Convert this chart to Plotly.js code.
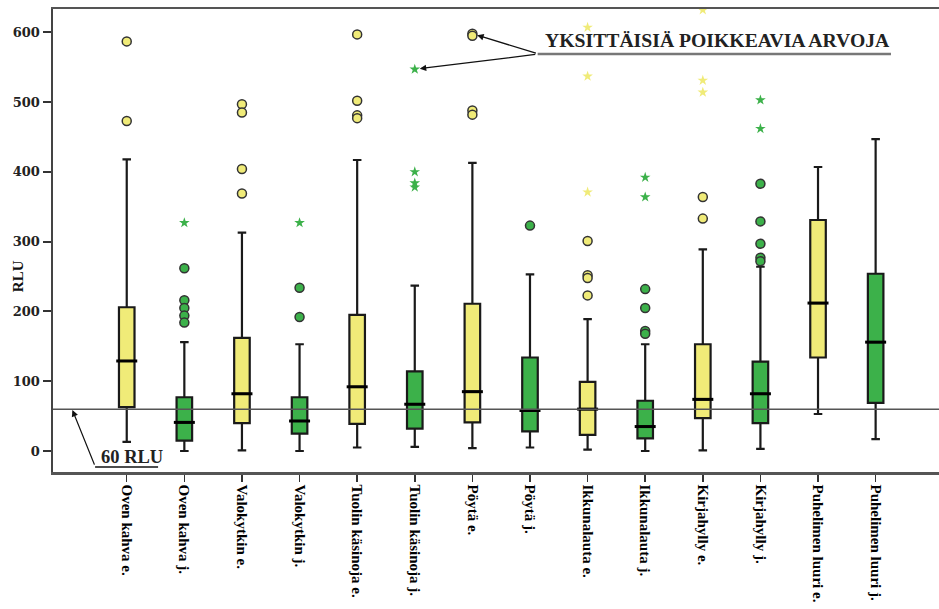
<!DOCTYPE html>
<html>
<head>
<meta charset="utf-8">
<script src="https://cdn.plot.ly/plotly-3.0.1.min.js"></script>
<style>
html,body{margin:0;padding:0;background:#fff;}
#chart{width:939px;height:609px;}
</style>
</head>
<body>
<div id="chart"></div>
<script>
// ---- Data ----
const categories = ['Oven kahva e.','Oven kahva j.','Valokytkin e.','Valokytkin j.',
  'Tuolin käsinoja e.','Tuolin käsinoja j.','Pöytä e.','Pöytä j.',
  'Ikkunalauta e.','Ikkunalauta j.','Kirjahylly e.','Kirjahylly j.',
  'Puhelimen luuri e.','Puhelimen luuri j.'];

const catE = ['Oven kahva e.','Valokytkin e.','Tuolin käsinoja e.','Pöytä e.','Ikkunalauta e.','Kirjahylly e.','Puhelimen luuri e.'];
const lowE = [13, 1, 5, 4, 2, 1, 53];
const q1E  = [63, 40, 39, 41, 23, 47, 134];
const medE = [129, 82, 92, 85, 60, 74, 212];
const q3E  = [206, 162, 195, 211, 99, 153, 331];
const upE  = [418, 313, 417, 413, 189, 289, 407];
const circlesE = [[587, 473], [497, 485, 404, 369], [597, 502, 481, 477], [598, 595, 488, 482], [301, 252, 248, 223], [364, 333], []];
const starsE   = [[], [], [], [], [607, 537, 371], [632, 531, 514], []];

const catJ = ['Oven kahva j.','Valokytkin j.','Tuolin käsinoja j.','Pöytä j.','Ikkunalauta j.','Kirjahylly j.','Puhelimen luuri j.'];
const lowJ = [0, 0, 6, 5, 0, 3, 17];
const q1J  = [15, 25, 32, 28, 18, 40, 69];
const medJ = [41, 43, 67, 58, 35, 82, 156];
const q3J  = [77, 77, 114, 134, 72, 128, 254];
const upJ  = [156, 153, 237, 253, 153, 264, 447];
const circlesJ = [[262, 216, 205, 194, 184], [234, 192], [], [323], [232, 205, 172, 168], [383, 329, 297, 277, 272], []];
const starsJ   = [[327], [327], [547, 400, 384, 378], [], [392, 364], [503, 462], []];

const threshold = 60;
const yTicks = [0, 100, 200, 300, 400, 500, 600];

// ---- Styles ----
const YEL = '#F0EB78';
const GRN = '#3CB14A';
const EDGE = '#1a1a1a';

function flatten(cats, lists) {
  const xs = [], ys = [];
  lists.forEach((l, i) => l.forEach(v => { xs.push(cats[i]); ys.push(v); }));
  return {x: xs, y: ys};
}

function boxTrace(cats, low, q1, med, q3, up, fill) {
  return {
    type: 'box', x: cats, lowerfence: low, q1: q1, median: med, q3: q3, upperfence: up,
    fillcolor: fill, line: {color: EDGE, width: 2.2}, width: 0.27, whiskerwidth: 0.55,
    boxpoints: false, hoverinfo: 'skip', showlegend: false
  };
}
function medianTrace(cats, med) {
  return {type: 'scatter', mode: 'markers', x: cats, y: med, showlegend: false, hoverinfo: 'skip',
    marker: {symbol: 'line-ew', size: 15, line: {color: '#000', width: 3}}};
}
function circleTrace(cats, lists, fill) {
  const d = flatten(cats, lists);
  return {type: 'scatter', mode: 'markers', x: d.x, y: d.y, showlegend: false, hoverinfo: 'skip',
    marker: {symbol: 'circle', size: 9, color: fill, line: {color: '#333', width: 1.5}}};
}
function starTrace(cats, lists, fill) {
  const d = flatten(cats, lists);
  return {type: 'scatter', mode: 'markers', x: d.x, y: d.y, showlegend: false, hoverinfo: 'skip',
    marker: {symbol: 'star', size: 8, color: fill, line: {width: 0}}};
}

const traces = [
  boxTrace(catE, lowE, q1E, medE, q3E, upE, YEL),
  boxTrace(catJ, lowJ, q1J, medJ, q3J, upJ, GRN),
  medianTrace(catE, medE), medianTrace(catJ, medJ),
  circleTrace(catE, circlesE, YEL), circleTrace(catJ, circlesJ, GRN),
  starTrace(catE, starsE, YEL), starTrace(catJ, starsJ, GRN)
];

const serif = 'Liberation Serif, Times New Roman, serif';

const layout = {
  width: 939, height: 609,
  margin: {l: 53, r: 0, t: 9, b: 137},
  paper_bgcolor: '#fff', plot_bgcolor: '#fff',
  boxmode: 'overlay',
  showlegend: false,
  xaxis: {
    type: 'category', categoryorder: 'array', categoryarray: categories,
    range: [-1.28, 14.1],
    showgrid: false, zeroline: false,
    showline: true, linecolor: '#555', linewidth: 2.5, mirror: true,
    ticks: 'outside', ticklen: 7, tickwidth: 1.5, tickcolor: '#333',
    tickangle: 90,
    tickfont: {family: serif, size: 15, color: '#000', weight: 'bold'}
  },
  yaxis: {
    range: [-30.1, 633.4],
    tickvals: yTicks, ticktext: yTicks.map(String),
    showgrid: false, zeroline: false,
    showline: true, linecolor: '#444', linewidth: 2.5, mirror: false,
    ticks: 'outside', ticklen: 8, tickwidth: 2, tickcolor: '#333',
    tickfont: {family: 'DejaVu Serif, serif', size: 13, color: '#222', weight: 'bold'}
  },
  shapes: [
    {type: 'line', xref: 'paper', x0: 0, x1: 1, yref: 'y', y0: threshold, y1: threshold,
     line: {color: '#555', width: 1.5}, layer: 'above'},
    {type: 'line', xref: 'paper', x0: 0.547, x1: 0.9458, yref: 'paper', y0: 0.9028, y1: 0.9028,
     line: {color: '#777', width: 2.5}},
    {type: 'line', xref: 'paper', x0: 0.0475, x1: 0.1186, yref: 'paper', y0: 0.0108, y1: 0.0108,
     line: {color: '#111', width: 1.5}}
  ],
  annotations: [
    {text: 'RLU', xref: 'paper', yref: 'paper', x: -0.0395, y: 0.423, textangle: -90,
     xanchor: 'center', yanchor: 'middle',
     showarrow: false, font: {family: serif, size: 15, color: '#111', weight: 'bold'}},
    {text: 'YKSITTÄISIÄ POIKKEAVIA ARVOJA', xref: 'paper', yref: 'paper', x: 0.7503, y: 0.933,
     xanchor: 'center', yanchor: 'middle',
     showarrow: false, font: {family: serif, size: 19.7, color: '#222', weight: 'bold'}},
    {text: '60 RLU', xref: 'paper', yref: 'paper', x: 0.0887, y: 0.0324,
     xanchor: 'center', yanchor: 'middle',
     showarrow: false, font: {family: serif, size: 18.5, color: '#222', weight: 'bold'}},
    // arrows
    {text: '', xref: 'x', yref: 'y', x: catE[3], y: circlesE[3][0], ax: 65, ay: 20,
     showarrow: true, arrowhead: 2, arrowsize: 1, arrowwidth: 1.3, arrowcolor: '#111', standoff: 5},
    {text: '', xref: 'x', yref: 'y', x: catJ[2], y: starsJ[2][0], ax: 122, ay: -15,
     showarrow: true, arrowhead: 2, arrowsize: 1, arrowwidth: 1.3, arrowcolor: '#111', standoff: 5},
    {text: '', xref: 'paper', yref: 'y', x: 0.0215, y: threshold, ax: 23, ay: 57,
     showarrow: true, arrowhead: 2, arrowsize: 1, arrowwidth: 1.3, arrowcolor: '#111', standoff: 1}
  ]
};

Plotly.newPlot('chart', traces, layout, {displayModeBar: false, staticPlot: true});
</script>
</body>
</html>
